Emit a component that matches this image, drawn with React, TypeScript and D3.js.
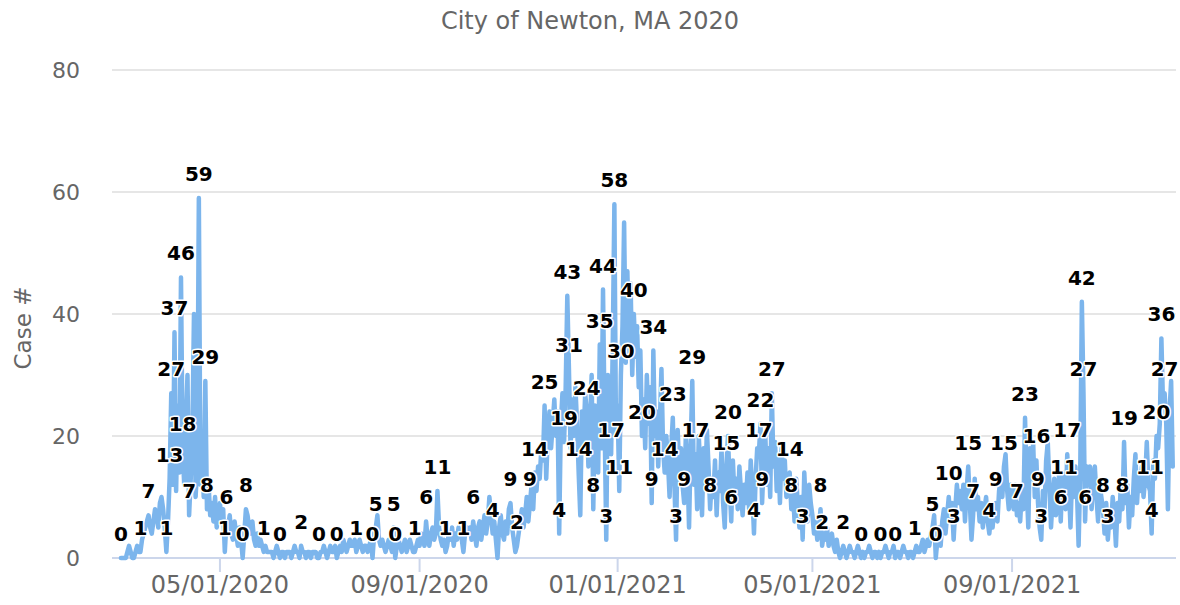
import React from 'react';
import * as d3 from 'd3';

const chartTitle = 'City of Newton, MA 2020';
const yAxisTitle = 'Case #';

// daily new cases, one array per month, starting 03/01/2020
const mar2020 = [0,0,0,0,1,2,1,0,0,1,2,1,1,3,4,5,6,7,5,4,6,8,7,5,9,10,8,5,1,6,13];
const apr2020 = [27,12,37,11,25,14,46,18,12,22,30,7,13,20,40,10,15,59,12,20,10,29,8,12,7,9,6,10,5,7];
const may2020 = [9,6,8,1,6,5,7,4,3,6,4,2,5,3,0,4,8,7,5,4,6,3,2,4,2,3,2,1,2,1,1];
const jun2020 = [1,1,0,1,2,1,0,1,1,0,1,1,1,0,1,2,1,1,0,2,1,1,0,1,1,0,1,1,1,0];
const jul2020 = [0,1,1,2,1,0,1,2,1,1,2,0,1,2,1,3,2,1,2,3,2,2,3,1,2,3,2,1,2,2,1];
const aug2020 = [2,3,0,4,5,7,3,2,3,2,1,2,3,2,1,5,0,2,3,2,1,2,3,1,2,3,2,1,1,2,3];
const sep2020 = [2,4,3,2,6,3,2,4,5,3,4,11,5,3,2,3,1,2,4,3,5,2,4,3,5,4,3,1,4,5];
const oct2020 = [4,5,3,6,4,2,5,6,3,5,7,4,6,10,7,4,6,3,0,5,7,4,3,6,4,8,9,5,3,1,2];
const nov2020 = [4,6,8,5,7,10,6,9,12,8,14,11,15,13,18,16,25,13,20,24,18,22,26,20,24,4,22,27,19,28];
const dec2020 = [43,31,18,26,20,28,22,14,7,24,19,27,24,15,22,30,8,25,20,14,35,18,44,22,3,30,25,17,35,58,20];
const jan2021 = [25,11,30,38,55,32,47,34,45,30,40,33,38,28,34,20,26,18,30,22,28,9,34,20,24,15,22,31,18,14,20];
const feb2021 = [16,10,18,23,12,3,21,14,18,12,9,20,15,5,18,29,12,17,8,20,14,7,18,12,21,15,8,13];
const mar2021 = [10,16,7,14,11,18,9,5,15,20,12,6,16,10,13,8,15,11,7,12,9,14,8,16,11,4,13,18,17,22,9];
const apr2021 = [16,20,12,18,10,27,15,19,11,17,9,18,13,16,10,12,14,8,11,6,13,9,5,10,3,14,8,6,12,9];
const may2021 = [7,4,6,3,5,8,2,4,3,5,2,3,4,2,1,3,1,0,1,2,1,0,1,2,1,1,0,1,2,1,0];
const jun2021 = [1,0,1,1,2,1,0,1,1,0,1,0,1,1,2,1,0,1,1,2,0,1,1,0,1,2,1,1,0,1];
const jul2021 = [1,0,1,2,1,1,2,3,1,2,3,2,4,5,7,0,3,5,2,6,8,4,7,10,6,9,3,8,12,9,11];
const aug2021 = [8,12,6,11,15,9,3,7,13,8,10,6,9,5,8,10,6,4,7,5,8,9,6,11,13,10,15,17,11,8,12];
const sep2021 = [10,8,12,7,9,6,11,8,23,12,5,18,13,19,10,16,9,5,3,11,8,16,19,12,5,10,13,7,9,14];
const oct2021 = [6,14,11,8,17,12,5,14,10,15,11,2,14,42,27,6,15,12,15,8,13,15,10,6,12,10,8,4,9,3,7];
const nov2021 = [5,10,7,2,9,6,12,8,19,9,12,5,10,7,13,17,9,14,11,15,10,13,19,12,11,4,16,13,20,18];
const dec2021 = [22,36,25,27,22,8,24,29,15];

const months = [mar2020, apr2020, may2020, jun2020, jul2020, aug2020, sep2020, oct2020, nov2020, dec2020,
  jan2021, feb2021, mar2021, apr2021, may2021, jun2021, jul2021, aug2021, sep2021, oct2021, nov2021, dec2021];
const cases = months.flat();

// days (counted from 03/01/2020) whose value label is shown
const labelDays = [0,12,17,28,30,31,33,37,38,42,48,52,53,64,65,75,77,88,98,111,122,133,145,155,157,168,169,181,
  188,195,200,211,217,229,240,244,252,255,261,270,273,275,276,282,287,291,295,297,299,302,304,307,308,316,321,
  327,328,335,340,342,347,352,354,363,373,374,376,390,393,394,395,401,412,413,420,431,432,445,456,468,477,489,
  500,502,510,513,522,525,535,539,544,552,557,564,565,567,579,581,583,592,593,594,605,608,617,618,634,635,638,641,643];

const yTicks = [0, 20, 40, 60, 80];
const xTicks = ['2020-05-01', '2020-09-01', '2021-01-01', '2021-05-01', '2021-09-01'];

const App = () => {
  const width = 1180, height = 605;
  const plot = { left: 112, right: 1176, top: 70, bottom: 558 };

  const x = d3.scaleUtc()
    .domain([Date.UTC(2020, 1, 24, 12), Date.UTC(2021, 11, 11)])
    .range([plot.left, plot.right]);
  const y = d3.scaleLinear().domain([0, 80]).range([plot.bottom, plot.top]);

  const points = cases.map((v, i) => ({ date: new Date(Date.UTC(2020, 2, 1 + i)), value: v }));
  const line = d3.line<{ date: Date; value: number }>()
    .x(d => x(d.date))
    .y(d => y(d.value));
  const fmt = d3.utcFormat('%m/%d/%Y');
  const gray = '#666666';

  return (
    <svg width={width} height={height} style={{ position: 'absolute', left: 0, top: 0, background: '#fff' }}
      fontFamily="'DejaVu Sans', sans-serif">
      <text x={width / 2} y={29} textAnchor="middle" fontSize={24} fill={gray}>{chartTitle}</text>

      {yTicks.map(t => (
        <g key={t}>
          {t > 0 && <line x1={plot.left} x2={plot.right} y1={y(t)} y2={y(t)} stroke="#e6e6e6" strokeWidth={2} />}
          <text x={80} y={y(t) + 8} textAnchor="end" fontSize={22} fill={gray}>{t}</text>
        </g>
      ))}
      <text transform={`translate(31,${(plot.top + plot.bottom) / 2 + 14}) rotate(-90)`} textAnchor="middle"
        fontSize={23} fill={gray}>{yAxisTitle}</text>

      <line x1={plot.left} x2={plot.right} y1={plot.bottom} y2={plot.bottom} stroke="#ccd6eb" strokeWidth={2} />
      {xTicks.map(s => {
        const d = d3.utcParse('%Y-%m-%d')(s)!;
        return (
          <g key={s}>
            <line x1={x(d)} x2={x(d)} y1={plot.bottom} y2={plot.bottom + 14} stroke="#ccd6eb" strokeWidth={2} />
            <text x={x(d)} y={plot.bottom + 35} textAnchor="middle" fontSize={24} fill={gray}>{fmt(d)}</text>
          </g>
        );
      })}

      <path d={line(points) || ''} fill="none" stroke="#7cb5ec" strokeWidth={4.5}
        strokeLinejoin="round" strokeLinecap="round" />

      {labelDays.map(i => {
        const p = points[i];
        return (
          <text key={i} x={x(p.date)} y={y(p.value) - 17} textAnchor="middle" fontSize={20} fontWeight="bold"
            fill="#000" stroke="#fff" strokeWidth={3} strokeLinejoin="round" paintOrder="stroke">{p.value}</text>
        );
      })}
    </svg>
  );
};

export default App;
